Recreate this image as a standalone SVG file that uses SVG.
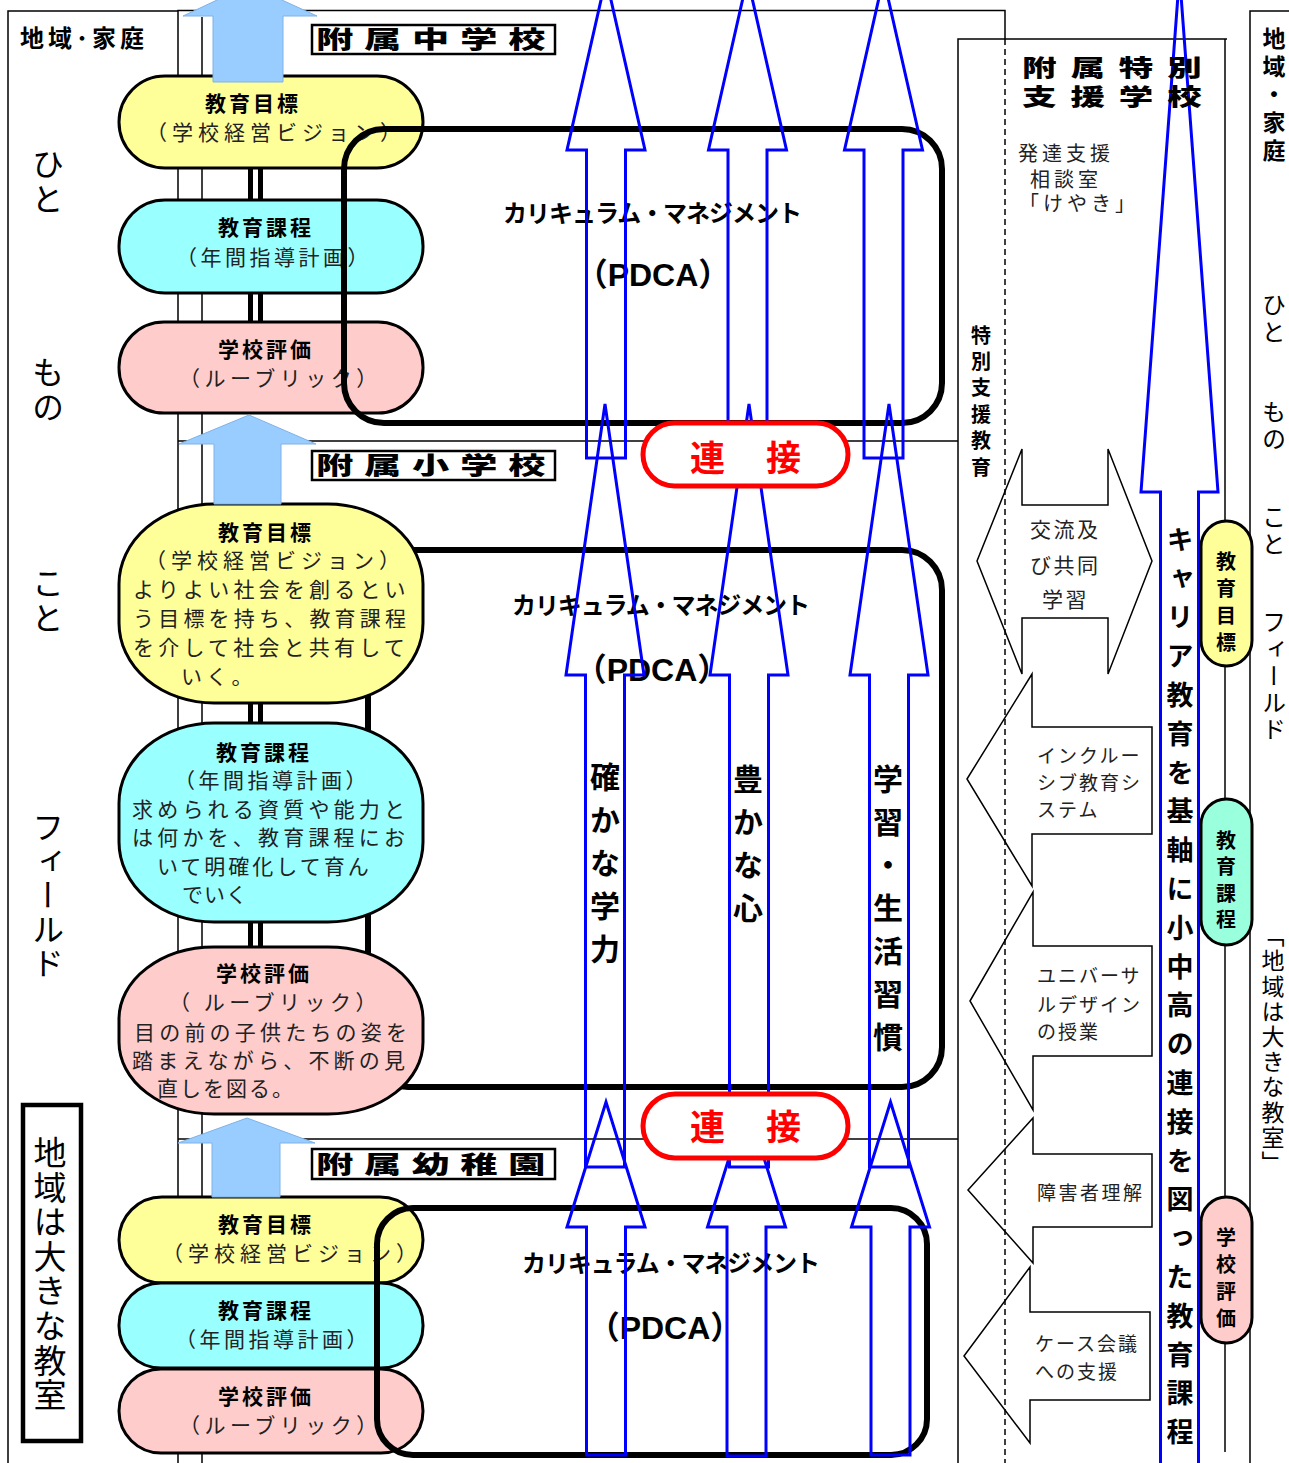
<svg xmlns="http://www.w3.org/2000/svg" width="1289" height="1463" viewBox="0 0 1289 1463">
<style>
text { font-family: "Noto Sans CJK JP", sans-serif; fill:#000; }
.b { font-weight: 700; }
.h { font-weight: 900; }
.t { font-size: 21px; fill: #222; }
.tb { font-size: 21px; font-weight: 700; letter-spacing: 3px; }
.v { writing-mode: vertical-rl; }
.ln { fill:none; stroke:#000; stroke-width:1.5; }
.dash { fill:none; stroke:#000; stroke-width:1.5; stroke-dasharray:6 4; }
.pill { stroke:#000; stroke-width:3; }
.y { fill:#FFFF99; } .c { fill:#99FFFF; } .p { fill:#FFCCCC; } .m { fill:#99FFDD; }
.cm { fill:none; stroke:#000; stroke-width:6; }
.ba { fill:none; stroke:#0000FF; stroke-width:3; }
.lb { fill:#99CCFF; stroke:#7FB2E6; stroke-width:1; }
.red { fill:#fff; stroke:#FF0000; stroke-width:5; }
.sa { fill:none; stroke:#000; stroke-width:1.5; }
.lbl { fill:#fff; stroke:#000; stroke-width:2.5; }
.bar { fill:#000; }
.rt { fill:#FF0000; font-size:35px; font-weight:700; letter-spacing:3px; }
.pd { font-family: "Liberation Sans", "Noto Sans CJK JP", sans-serif; font-size:32px; font-weight:700; }
.cmt { font-size:24px; font-weight:700; }
.hd { font-size:24px; font-weight:900; letter-spacing:7px; }
.hs { font-size:23px; font-weight:900; letter-spacing:9.3px; }
.st { font-size:20px; fill:#222; letter-spacing:4px; }
.at { font-size:19px; fill:#222; letter-spacing:2px; }
.col { font-size:30px; font-weight:700; letter-spacing:13px; }
</style>

<g id="frames">
  <path class="ln" d="M8,1463 L8,11 L178,11"/>
  <path class="ln" d="M178,1463 L178,10.5 L1005,10.5 L1005,39"/>
  <line class="ln" x1="202" y1="17" x2="202" y2="1463"/>
  <line class="ln" x1="178" y1="441" x2="958" y2="441"/>
  <line class="ln" x1="178" y1="1139" x2="958" y2="1139"/>
  <path class="ln" d="M958,1463 L958,39 L1227,39"/>
  <line class="ln" x1="1225" y1="39" x2="1225" y2="1452"/>
  <line class="dash" x1="1005" y1="39" x2="1005" y2="1463"/>
  <path class="ln" d="M1250,1463 L1250,11 L1289,11"/>
</g>

<g id="label-left-top"><text class="b" x="20" y="47" style="font-size:24px;letter-spacing:4px">地域･家庭</text></g>
<g id="left-vertical">
  <text class="v" x="48" y="148" style="font-size:32px;letter-spacing:3px">ひと</text>
  <text class="v" x="48" y="356" style="font-size:32px;letter-spacing:3px">もの</text>
  <text class="v" x="48" y="567" style="font-size:32px;letter-spacing:3px">こと</text>
  <text class="v" x="48" y="811" style="font-size:32px;letter-spacing:2px">フィールド</text>
</g>
<g id="box-chiiki">
  <rect x="23" y="1105" width="58" height="336" fill="#fff" stroke="#000" stroke-width="4.5"/>
  <text class="v" x="50" y="1136" style="font-size:33px;letter-spacing:1.6px">地域は大きな教室</text>
</g>

<g id="right-vertical">
  <text class="v b" x="1274" y="27" style="font-size:23px;letter-spacing:5px">地域・家庭</text>
  <text class="v" x="1274" y="293" style="font-size:24px;letter-spacing:3px">ひと</text>
  <text class="v" x="1274" y="400" style="font-size:24px;letter-spacing:3px">もの</text>
  <text class="v" x="1274" y="505" style="font-size:24px;letter-spacing:3px">こと</text>
  <text class="v" x="1274" y="610" style="font-size:24px;letter-spacing:2.75px">フィールド</text>
  <text class="v" x="1273" y="924" style="font-size:23px;letter-spacing:2.2px">「地域は大きな教室」</text>
</g>

<!-- elementary CM (behind pills) -->
<g id="cm-elem"><rect class="cm" x="368" y="550" width="574" height="537" rx="40"/></g>

<g id="bars">
  <rect class="bar" x="248" y="166" width="5" height="36"/><rect class="bar" x="258" y="166" width="5" height="36"/>
  <rect class="bar" x="248" y="291" width="5" height="33"/><rect class="bar" x="258" y="291" width="5" height="33"/>
  <rect class="bar" x="248" y="701" width="5" height="24"/><rect class="bar" x="258" y="701" width="5" height="24"/>
  <rect class="bar" x="248" y="920" width="5" height="29"/><rect class="bar" x="258" y="920" width="5" height="29"/>
</g>

<g id="jh-goal"><rect class="pill y" x="119" y="76" width="304" height="92" rx="46"/>
  <text class="tb" x="205" y="111">教育目標</text>
  <text class="t" x="146" y="140" style="letter-spacing:5px">（学校経営ビジョン）</text></g>
<g id="jh-curr"><rect class="pill c" x="119" y="200" width="304" height="93" rx="46"/>
  <text class="tb" x="218" y="235">教育課程</text>
  <text class="t" x="176" y="265" style="letter-spacing:3.5px">（年間指導計画）</text></g>
<g id="jh-eval"><rect class="pill p" x="119" y="322" width="304" height="91" rx="45"/>
  <text class="tb" x="218" y="357">学校評価</text>
  <text class="t" x="179" y="386" style="letter-spacing:4.5px">（ルーブリック）</text></g>

<g id="el-goal"><rect class="pill y" x="119" y="504" width="304" height="199" rx="95" ry="80"/>
  <text class="tb" x="218" y="540">教育目標</text>
  <text class="t" x="145" y="568" style="letter-spacing:5px">（学校経営ビジョン）</text>
  <text class="t" x="133" y="597" style="letter-spacing:4.2px">よりよい社会を創るとい</text>
  <text class="t" x="133" y="626" style="letter-spacing:4.2px">う目標を持ち、教育課程</text>
  <text class="t" x="133" y="655" style="letter-spacing:4.2px">を介して社会と共有して</text>
  <text class="t" x="181" y="684" style="letter-spacing:4.2px">いく。</text></g>
<g id="el-curr"><rect class="pill c" x="119" y="723" width="304" height="199" rx="95" ry="80"/>
  <text class="tb" x="216" y="760">教育課程</text>
  <text class="t" x="174" y="788" style="letter-spacing:3.5px">（年間指導計画）</text>
  <text class="t" x="132" y="817" style="letter-spacing:4.2px">求められる資質や能力と</text>
  <text class="t" x="132" y="845" style="letter-spacing:4.2px">は何かを、教育課程にお</text>
  <text class="t" x="157" y="874" style="letter-spacing:3px">いて明確化して育ん</text>
  <text class="t" x="182" y="902" style="letter-spacing:1px">でいく</text></g>
<g id="el-eval"><rect class="pill p" x="119" y="947" width="304" height="167" rx="95" ry="72"/>
  <text class="tb" x="216" y="981">学校評価</text>
  <text class="t" x="169" y="1010" style="letter-spacing:4.5px">（ ルーブリック）</text>
  <text class="t" x="134" y="1040" style="letter-spacing:4.2px">目の前の子供たちの姿を</text>
  <text class="t" x="132" y="1068" style="letter-spacing:4.2px">踏まえながら、不断の見</text>
  <text class="t" x="157" y="1096" style="letter-spacing:2px">直しを図る。</text></g>

<g id="kg-goal"><rect class="pill y" x="119" y="1197" width="304" height="86" rx="43"/>
  <text class="tb" x="218" y="1232">教育目標</text>
  <text class="t" x="162" y="1261" style="letter-spacing:5px">（学校経営ビジョン）</text></g>
<g id="kg-curr"><rect class="pill c" x="119" y="1283" width="304" height="85" rx="42"/>
  <text class="tb" x="218" y="1318">教育課程</text>
  <text class="t" x="175" y="1347" style="letter-spacing:3.5px">（年間指導計画）</text></g>
<g id="kg-eval"><rect class="pill p" x="119" y="1369" width="304" height="84" rx="42"/>
  <text class="tb" x="218" y="1404">学校評価</text>
  <text class="t" x="179" y="1433" style="letter-spacing:4.5px">（ルーブリック）</text></g>

<g id="up-arrows">
  <path class="lb" d="M249,-15 L317,16 L283,16 L283,82 L213,82 L213,16 L183,16 Z"/>
  <path class="lb" d="M249,415 L316,444 L281,444 L281,504 L214,504 L214,444 L179,444 Z"/>
  <path class="lb" d="M247,1118 L315,1143 L280,1143 L280,1197 L212,1197 L212,1143 L178,1143 Z"/>
</g>

<g id="labels">
  <rect class="lbl" x="312" y="25" width="243" height="29"/>
  <text class="hd" transform="translate(316,48) scale(1.55,1)">附属中学校</text>
  <rect class="lbl" x="312" y="451" width="243" height="29"/>
  <text class="hd" transform="translate(316,474) scale(1.55,1)">附属小学校</text>
  <rect class="lbl" x="312" y="1149" width="243" height="30"/>
  <text class="hd" transform="translate(316,1173) scale(1.55,1)">附属幼稚園</text>
</g>

<g id="cm-jh"><rect class="cm" x="344" y="129" width="598" height="294" rx="40"/>
  <text class="cmt" x="503" y="222" textLength="299">カリキュラム・マネジメント</text>
  <text class="pd" x="653" y="286" text-anchor="middle">（PDCA）</text></g>
<g id="cm-elem-text">
  <text class="cmt" x="512" y="614" textLength="298">カリキュラム・マネジメント</text>
  <text class="pd" x="652" y="681" text-anchor="middle">（PDCA）</text></g>
<g id="cm-kg"><rect class="cm" x="377" y="1208" width="550" height="247" rx="36"/>
  <text class="cmt" x="522" y="1272" textLength="298">カリキュラム・マネジメント</text>
  <text class="pd" x="665" y="1339" text-anchor="middle">（PDCA）</text></g>

<g id="connectors">
  <path class="ba" d="M606,-22 L645,150 L625.5,150 L625.5,458 L586.5,458 L586.5,150 L567,150 Z"/>
  <path class="ba" d="M747.5,-22 L786.5,150 L767,150 L767,458 L728,458 L728,150 L708.5,150 Z"/>
  <path class="ba" d="M883.5,-22 L922.5,150 L903,150 L903,458 L864,458 L864,150 L844.5,150 Z"/>
  <path class="ba" d="M605,404 L644,675 L624.5,675 L624.5,1167 L585.5,1167 L585.5,675 L566,675 Z"/>
  <path class="ba" d="M749,404 L788,675 L768.5,675 L768.5,1167 L729.5,1167 L729.5,675 L710,675 Z"/>
  <path class="ba" d="M889,404 L928,675 L908.5,675 L908.5,1167 L869.5,1167 L869.5,675 L850,675 Z"/>
  <path class="ba" d="M606,1102 L645,1227 L625.5,1227 L625.5,1455 L586.5,1455 L586.5,1227 L567,1227 Z"/>
  <path class="ba" d="M746.5,1102 L785.5,1227 L766,1227 L766,1456 L727,1456 L727,1227 L707.5,1227 Z"/>
  <path class="ba" d="M890.5,1102 L929.5,1227 L910,1227 L910,1455 L871,1455 L871,1227 L851.5,1227 Z"/>
  <path class="ba" d="M1179.5,-25 L1218,492 L1198.5,492 L1198.5,1470 L1160.5,1470 L1160.5,492 L1141,492 Z"/>
</g>

<g id="renketsu-top"><rect class="red" x="643" y="423" width="205" height="63" rx="31.5"/>
  <text class="rt" x="690" y="471">連　接</text></g>
<g id="renketsu-bottom"><rect class="red" x="643" y="1094" width="205" height="64" rx="32"/>
  <text class="rt" x="690" y="1140">連　接</text></g>

<g id="col-labels">
  <text class="v col" x="605" y="762">確かな学力</text>
  <text class="v col" x="748" y="764">豊かな心</text>
  <text class="v col" x="888" y="764">学習・生活習慣</text>
  <text class="v b" x="1180" y="526" style="font-size:27px;letter-spacing:11.8px">キャリア教育を基軸に小中高の連接を図った教育課程</text>
</g>

<g id="special">
  <text class="hs" transform="translate(1022,76) scale(1.5,1)">附属特別</text>
  <text class="hs" transform="translate(1022,105) scale(1.5,1)">支援学校</text>
  <text class="st" x="1018" y="161">発達支援</text>
  <text class="st" x="1030" y="187">相談室</text>
  <text class="st" x="1019" y="211">「けやき」</text>
  <text class="v b" x="981" y="325" style="font-size:20px;letter-spacing:6.4px">特別支援教育</text>
</g>

<g id="sp-exchange"><path class="sa" d="M977,561 L1022,449 L1022,505 L1108,505 L1108,449 L1152,561 L1108,674 L1108,618 L1022,618 L1022,674 Z"/>
  <text class="t" x="1030" y="537" style="letter-spacing:2.5px">交流及</text>
  <text class="t" x="1030" y="573" style="letter-spacing:2.5px">び共同</text>
  <text class="t" x="1042" y="607" style="letter-spacing:2.5px">学習</text></g>
<g id="sp-inclusive"><path class="sa" d="M967,779 L1032,674 L1032,727 L1152,727 L1152,834 L1032,834 L1032,886 Z"/>
  <text class="at" x="1037" y="763">インクルー</text>
  <text class="at" x="1037" y="790">シブ教育シ</text>
  <text class="at" x="1037" y="817">ステム</text></g>
<g id="sp-ud"><path class="sa" d="M970,1001 L1033,892 L1033,946 L1152,946 L1152,1056 L1033,1056 L1033,1110 Z"/>
  <text class="at" x="1037" y="983">ユニバーサ</text>
  <text class="at" x="1037" y="1012">ルデザイン</text>
  <text class="at" x="1037" y="1039">の授業</text></g>
<g id="sp-understanding"><path class="sa" d="M968,1190 L1033,1118 L1033,1154 L1152,1154 L1152,1227 L1033,1227 L1033,1263 Z"/>
  <text class="at" x="1037" y="1200" style="letter-spacing:2.5px">障害者理解</text></g>
<g id="sp-case"><path class="sa" d="M964,1356 L1030,1267 L1030,1312 L1150,1312 L1150,1400 L1030,1400 L1030,1443 Z"/>
  <text class="at" x="1035" y="1351">ケース会議</text>
  <text class="at" x="1035" y="1379">への支援</text></g>

<g id="right-pills">
  <rect class="pill y" x="1201" y="521" width="51" height="145" rx="25.5"/>
  <text class="v b" x="1226" y="551" style="font-size:20px;letter-spacing:7px">教育目標</text>
  <rect class="pill m" x="1201" y="799" width="51" height="146" rx="25.5"/>
  <text class="v b" x="1226" y="830" style="font-size:20px;letter-spacing:6.5px">教育課程</text>
  <rect class="pill p" x="1201" y="1197" width="51" height="146" rx="25.5"/>
  <text class="v b" x="1226" y="1227" style="font-size:20px;letter-spacing:7px">学校評価</text>
</g>
</svg>
